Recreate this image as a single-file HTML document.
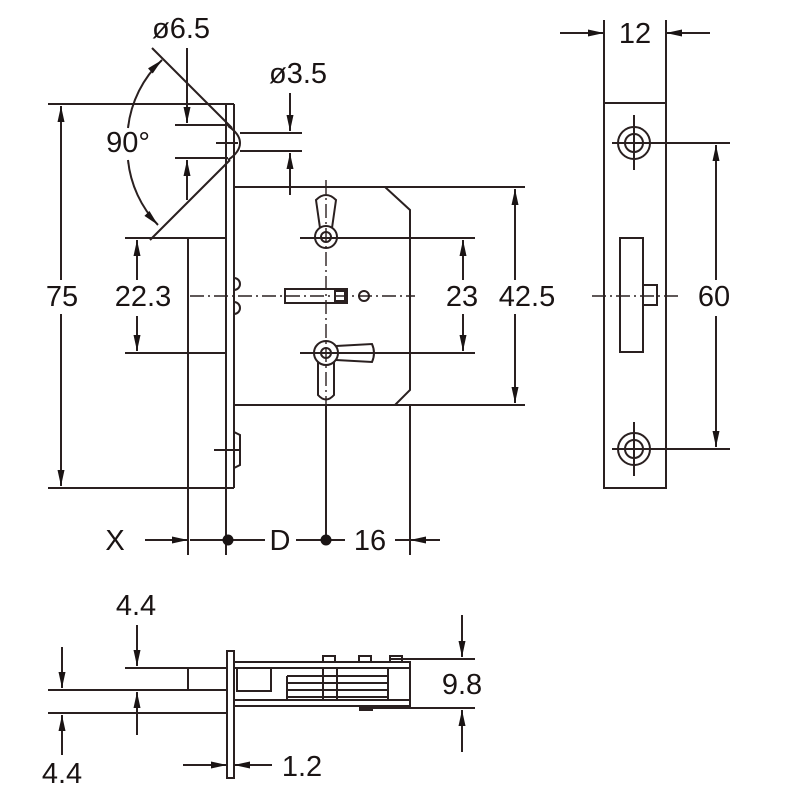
<!DOCTYPE html>
<html><head><meta charset="utf-8"><style>
html,body{margin:0;padding:0;background:#fff;}
svg{display:block}
text{font-family:"Liberation Sans",sans-serif;fill:#1a1414;}
</style></head><body>
<svg width="800" height="800" viewBox="0 0 800 800" xmlns="http://www.w3.org/2000/svg">
<defs>
<marker id="a" viewBox="0 0 16 10" refX="16" refY="5" markerWidth="16" markerHeight="10" markerUnits="userSpaceOnUse" orient="auto-start-reverse"><path d="M0,1.5 L16,5 L0,8.5 Z" fill="#1a1414"/></marker>
</defs>
<g stroke="#2a2020" stroke-width="2" fill="none">
<!-- faceplate main -->
<line x1="48" y1="104" x2="234" y2="104"/>
<line x1="48" y1="488" x2="234" y2="488"/>
<line x1="226" y1="104" x2="226" y2="555"/>
<line x1="234" y1="104" x2="234" y2="488"/>
<line x1="188" y1="238" x2="188" y2="555"/>
<line x1="125" y1="238" x2="226" y2="238"/>
<line x1="125" y1="353" x2="226" y2="353"/>
<!-- 75 -->
<line x1="61" y1="106" x2="61" y2="280" marker-start="url(#a)"/>
<line x1="61" y1="314" x2="61" y2="486" marker-end="url(#a)"/>
<!-- 22.3 -->
<line x1="137" y1="280" x2="137" y2="240" marker-end="url(#a)"/>
<line x1="137" y1="316" x2="137" y2="351" marker-end="url(#a)"/>
<!-- countersink -->
<line x1="152" y1="48" x2="232" y2="128"/>
<line x1="150" y1="240" x2="230" y2="160"/>
<line x1="175" y1="125" x2="228" y2="125"/>
<line x1="175" y1="158" x2="228" y2="158"/>
<line x1="187" y1="48" x2="187" y2="123" marker-end="url(#a)"/>
<line x1="187" y1="200" x2="187" y2="160" marker-end="url(#a)"/>
<path d="M228,126 Q240,134 240,143 Q240,152 228,160"/>
<line x1="216" y1="143" x2="238" y2="143"/>
<line x1="240" y1="133" x2="302" y2="133"/>
<line x1="240" y1="151" x2="302" y2="151"/>
<line x1="290" y1="93" x2="290" y2="131" marker-end="url(#a)"/>
<line x1="290" y1="195" x2="290" y2="153" marker-end="url(#a)"/>
<path d="M128,128 A110,110 0 0 1 162,60" marker-end="url(#a)"/>
<path d="M128,160 A110,110 0 0 0 158,225" marker-end="url(#a)"/>
<!-- case -->
<path d="M234,187 L385,187 L410,210 L410,390 L395,405 L234,405"/>
<line x1="385" y1="187" x2="525" y2="187"/>
<line x1="395" y1="405" x2="525" y2="405"/>
<line x1="410" y1="405" x2="410" y2="555"/>
<line x1="515" y1="280" x2="515" y2="189" marker-end="url(#a)"/>
<line x1="515" y1="314" x2="515" y2="403" marker-end="url(#a)"/>
<line x1="300" y1="238" x2="475" y2="238"/>
<line x1="300" y1="353" x2="475" y2="353"/>
<line x1="463" y1="280" x2="463" y2="240" marker-end="url(#a)"/>
<line x1="463" y1="314" x2="463" y2="351" marker-end="url(#a)"/>
<!-- centre line -->
<line x1="190" y1="296" x2="415" y2="296" stroke-dasharray="14,4,2,4" stroke-width="1.4"/>
<line x1="326" y1="180" x2="326" y2="540" stroke-dasharray="14,4,2,4" stroke-width="1.4"/>
<line x1="326" y1="405" x2="326" y2="540"/>
<!-- follower top -->
<circle cx="326" cy="237" r="11"/><circle cx="326" cy="237" r="5"/>
<path d="M320,228 L316,200 Q326,190 336,200 L332,228"/>
<!-- follower bottom -->
<circle cx="326" cy="353" r="12"/><circle cx="326" cy="353" r="5"/>
<path d="M336,346 L372,344 Q376,353 372,362 L336,360"/>
<path d="M318,362 L318,395 Q326,404 334,395 L334,362"/>
<!-- bolt -->
<rect x="285" y="289" width="62" height="14"/>
<rect x="335" y="291" width="10" height="10"/>
<circle cx="364" cy="296" r="5"/>
<path d="M234,278 a5,5 0 0 1 0,12 M234,302 a5,5 0 0 1 0,12"/>
<path d="M234,432 L240,435 L240,465 L234,468"/>
<line x1="214" y1="450" x2="240" y2="450"/>
<!-- bottom dims -->
<line x1="145" y1="540" x2="188" y2="540" marker-end="url(#a)"/>
<line x1="190" y1="540" x2="265" y2="540"/>
<line x1="296" y1="540" x2="345" y2="540"/>
<line x1="440" y1="540" x2="410" y2="540" marker-end="url(#a)"/>
<line x1="395" y1="540" x2="410" y2="540"/>
<!-- right view -->
<rect x="604" y="103" width="62" height="385"/>
<line x1="604" y1="20" x2="604" y2="103"/>
<line x1="666" y1="20" x2="666" y2="103"/>
<line x1="560" y1="33" x2="604" y2="33" marker-end="url(#a)"/>
<line x1="710" y1="33" x2="666" y2="33" marker-end="url(#a)"/>
<circle cx="634" cy="143" r="16"/><circle cx="634" cy="143" r="9"/>
<line x1="612" y1="143" x2="730" y2="143"/><line x1="634" y1="115" x2="634" y2="170"/>
<circle cx="634" cy="449" r="16"/><circle cx="634" cy="449" r="9"/>
<line x1="612" y1="449" x2="730" y2="449"/><line x1="634" y1="422" x2="634" y2="476"/>
<rect x="620" y="238" width="23" height="114"/>
<rect x="643" y="285" width="14" height="20"/>
<line x1="592" y1="296" x2="680" y2="296" stroke-dasharray="14,4,2,4" stroke-width="1.4"/>
<line x1="716" y1="280" x2="716" y2="145" marker-end="url(#a)"/>
<line x1="716" y1="316" x2="716" y2="447" marker-end="url(#a)"/>
<!-- bottom view -->
<rect x="227" y="651" width="7" height="127"/>
<line x1="125" y1="668" x2="227" y2="668"/>
<line x1="48" y1="690" x2="227" y2="690"/>
<line x1="48" y1="713" x2="227" y2="713"/>
<line x1="188" y1="668" x2="188" y2="690"/>
<rect x="234" y="662" width="176" height="6"/>
<rect x="234" y="700" width="176" height="6"/>
<rect x="388" y="668" width="22" height="32"/>
<rect x="237" y="668" width="34" height="23"/>
<line x1="287" y1="676" x2="388" y2="676"/><line x1="287" y1="683" x2="388" y2="683"/><line x1="287" y1="690" x2="388" y2="690"/><line x1="287" y1="697" x2="388" y2="697"/>
<line x1="287" y1="676" x2="287" y2="700"/>
<rect x="323" y="668" width="14" height="32"/>
<rect x="323" y="656" width="12" height="6"/><rect x="359" y="656" width="12" height="6"/><rect x="390" y="656" width="12" height="6"/><rect x="360" y="706" width="12" height="4"/>
<line x1="390" y1="659" x2="475" y2="659"/>
<line x1="360" y1="708" x2="475" y2="708"/>
<line x1="462" y1="615" x2="462" y2="657" marker-end="url(#a)"/>
<line x1="462" y1="752" x2="462" y2="710" marker-end="url(#a)"/>
<line x1="137" y1="625" x2="137" y2="666" marker-end="url(#a)"/>
<line x1="137" y1="735" x2="137" y2="692" marker-end="url(#a)"/>
<line x1="62" y1="647" x2="62" y2="688" marker-end="url(#a)"/>
<line x1="62" y1="755" x2="62" y2="715" marker-end="url(#a)"/>
<line x1="183" y1="765" x2="227" y2="765" marker-end="url(#a)"/>
<line x1="272" y1="765" x2="234" y2="765" marker-end="url(#a)"/>
</g>
<g fill="#1a1414">
<circle cx="228" cy="540" r="5.5"/><circle cx="326" cy="540" r="5.5"/>
</g>
<g font-size="29">
<text x="181" y="38" text-anchor="middle">ø6.5</text>
<text x="298" y="83" text-anchor="middle">ø3.5</text>
<text x="128" y="152" text-anchor="middle">90°</text>
<text x="62" y="306" text-anchor="middle">75</text>
<text x="143" y="306" text-anchor="middle">22.3</text>
<text x="462" y="306" text-anchor="middle">23</text>
<text x="527" y="306" text-anchor="middle">42.5</text>
<text x="714" y="306" text-anchor="middle">60</text>
<text x="635" y="43" text-anchor="middle">12</text>
<text x="115" y="550" text-anchor="middle">X</text>
<text x="280" y="550" text-anchor="middle">D</text>
<text x="370" y="550" text-anchor="middle">16</text>
<text x="136" y="615" text-anchor="middle">4.4</text>
<text x="62" y="783" text-anchor="middle">4.4</text>
<text x="462" y="694" text-anchor="middle">9.8</text>
<text x="302" y="776" text-anchor="middle">1.2</text>
</g>
</svg>
</body></html>
